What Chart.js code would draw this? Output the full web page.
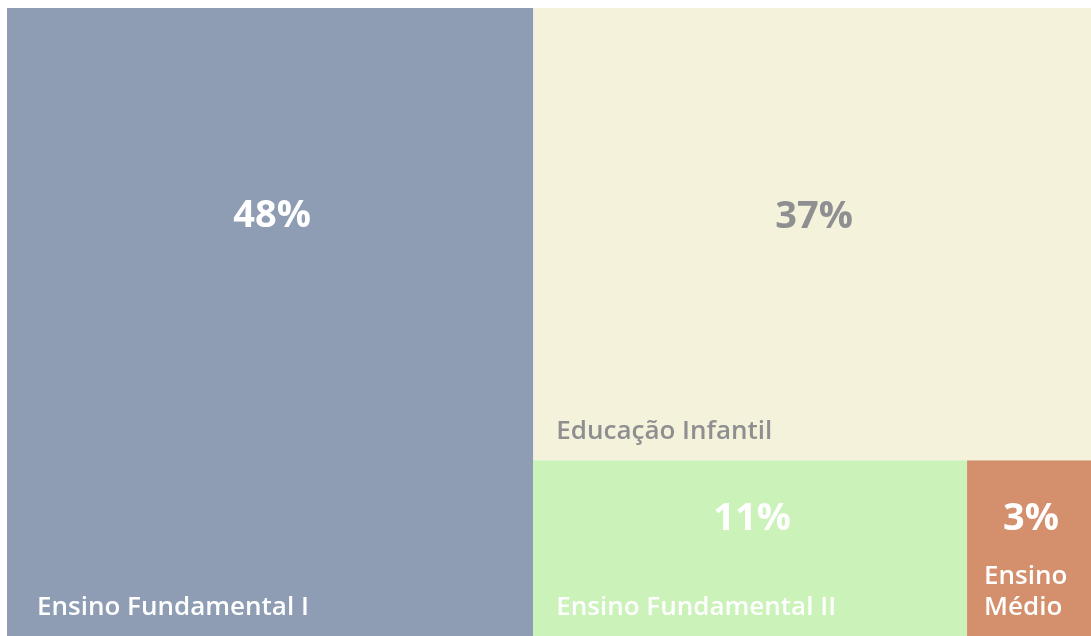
<!DOCTYPE html>
<html>
<head>
<meta charset="utf-8">
<script src="https://cdn.jsdelivr.net/npm/chart.js@4.4.1/dist/chart.umd.min.js"></script>
<style>
  body { margin: 0; background: #fff; }
  .wrap { width: 1091px; height: 636px; }
</style>
</head>
<body>
<div class="wrap"><canvas id="treemap"></canvas></div>
<script>
// data
const categories = ['Ensino Fundamental I', 'Educação Infantil', 'Ensino Fundamental II', 'Ensino Médio'];
const shares = [48.6, 37.1, 11.2, 3.2];
const tileColors = ['#8e9cb4', '#f4f2da', '#caf2b9', '#d48f6c'];
const textColors = ['#ffffff', '#8f8f92', '#ffffff', '#ffffff'];

// where the big number sits inside its tile (fraction of tile height)
const pctPos = [0.332, 0.462, 0.335, 0.335];
const namePad = [30, 23, 23, 17];

const FONT = '"Open Sans", "Noto Sans", sans-serif';

function worst(row, side) {
  let s = 0, mx = -Infinity, mn = Infinity;
  row.forEach(a => { s += a; mx = Math.max(mx, a); mn = Math.min(mn, a); });
  return Math.max(side * side * mx / (s * s), (s * s) / (side * side * mn));
}

// squarified layout in pixel space
function squarify(values, x, y, w, h) {
  const total = values.reduce((a, b) => a + b, 0);
  const k = w * h / total;
  const areas = values.map(v => v * k);
  const out = [];
  let i = 0;
  while (i < areas.length) {
    const side = Math.min(w, h);
    let row = [areas[i]];
    let j = i + 1;
    while (j < areas.length && worst(row.concat(areas[j]), side) <= worst(row, side)) {
      row.push(areas[j]);
      j++;
    }
    const s = row.reduce((a, b) => a + b, 0);
    if (w >= h) {
      const t = s / h;
      let yy = y;
      row.forEach(a => { out.push({ x: x, y: yy, w: t, h: a / t }); yy += a / t; });
      x += t; w -= t;
    } else {
      const t = s / w;
      let xx = x;
      row.forEach(a => { out.push({ x: xx, y: y, w: a / t, h: t }); xx += a / t; });
      y += t; h -= t;
    }
    i = j;
  }
  return out;
}

function wrapWords(ctx, text, maxW) {
  const words = text.split(' ');
  const lines = [];
  let cur = '';
  words.forEach(wd => {
    const test = cur ? cur + ' ' + wd : wd;
    if (cur && ctx.measureText(test).width > maxW) {
      lines.push(cur);
      cur = wd;
    } else {
      cur = test;
    }
  });
  if (cur) lines.push(cur);
  return lines;
}

const treemapPlugin = {
  id: 'treemap',
  afterDatasetsDraw(chart) {
    const ctx = chart.ctx;
    const xs = chart.scales.x, ys = chart.scales.y;
    const left = xs.getPixelForValue(0), right = xs.getPixelForValue(100);
    const top = ys.getPixelForValue(100), bottom = ys.getPixelForValue(0);
    const total = shares.reduce((a, b) => a + b, 0);
    const tiles = squarify(shares, left, top, right - left, bottom - top);

    ctx.save();
    tiles.forEach((t, i) => {
      ctx.fillStyle = tileColors[i];
      ctx.fillRect(t.x, t.y, t.w, t.h);
    });

    tiles.forEach((t, i) => {
      const pct = Math.floor(shares[i] / total * 100) + '%';
      ctx.fillStyle = textColors[i];
      ctx.textAlign = 'center';
      ctx.textBaseline = 'middle';
      ctx.font = 'bold 38px ' + FONT;
      ctx.fillText(pct, t.x + t.w / 2 + 2, t.y + t.h * pctPos[i]);

      ctx.font = '600 26px ' + FONT;
      ctx.textAlign = 'left';
      ctx.textBaseline = 'alphabetic';
      const pad = namePad[i];
      const lines = wrapWords(ctx, categories[i], t.w - pad * 2);
      const lh = 31;
      lines.forEach((ln, k) => {
        const by = t.y + t.h - 21 - (lines.length - 1 - k) * lh;
        ctx.fillText(ln, t.x + pad, by);
      });
    });
    ctx.restore();
  }
};

new Chart(document.getElementById('treemap'), {
  type: 'scatter',
  data: {
    datasets: [{ label: 'share', data: [] }]
  },
  options: {
    responsive: true,
    maintainAspectRatio: false,
    animation: false,
    layout: { padding: { left: 7, top: 8, right: 0, bottom: 0 } },
    scales: {
      x: { type: 'linear', min: 0, max: 100, display: false },
      y: { type: 'linear', min: 0, max: 100, display: false }
    },
    plugins: {
      legend: { display: false },
      tooltip: { enabled: false }
    }
  },
  plugins: [treemapPlugin]
});
</script>
</body>
</html>
